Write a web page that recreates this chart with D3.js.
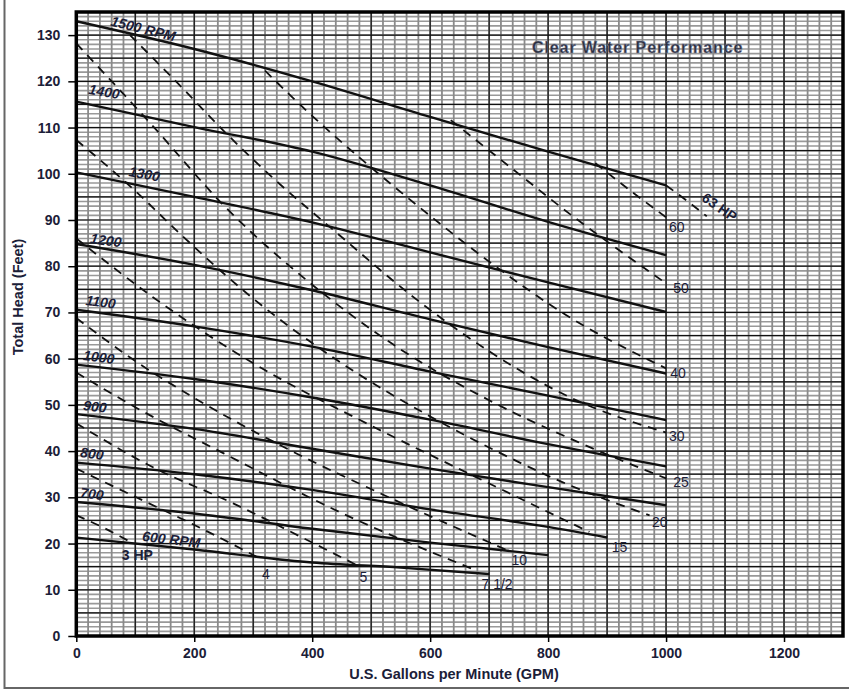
<!DOCTYPE html>
<html>
<head>
<meta charset="utf-8">
<script src="https://cdn.jsdelivr.net/npm/d3@7"></script>
<style>
  body { margin: 0; background: #fff; }
  text { font-family: "Liberation Sans", Arial, sans-serif; }
</style>
</head>
<body>
<script>
// ---- data (GPM, feet) ----
const xTicks = [0, 200, 400, 600, 800, 1000, 1200];
const yTicks = [0, 10, 20, 30, 40, 50, 60, 70, 80, 90, 100, 110, 120, 130];

// solid RPM curves
const rpm1500 = [[0, 133], [200, 127], [400, 120], [600, 112.3], [800, 104.8], [1000, 97.5]];
const rpm1400 = [[0, 115.6], [200, 110.1], [400, 104.8], [600, 97.5], [800, 89.6], [1000, 82.4]];
const rpm1300 = [[0, 100.3], [200, 95], [400, 89.5], [600, 83], [800, 76.5], [1000, 70.1]];
const rpm1200 = [[0, 84.8], [200, 80.3], [400, 74.8], [600, 68.5], [800, 62.5], [1000, 56.8]];
const rpm1100 = [[0, 70.6], [200, 67], [400, 62.6], [600, 57.2], [800, 52], [1000, 46.7]];
const rpm1000 = [[0, 58.7], [200, 55.6], [400, 51.6], [600, 46.8], [800, 41.5], [1000, 36.7]];
const rpm900 = [[0, 48], [200, 44.8], [400, 40.5], [600, 36.2], [800, 32.2], [1000, 28.3]];
const rpm800 = [[0, 37.5], [200, 35], [400, 31.6], [600, 27.4], [800, 23.6], [900, 21.3]];
const rpm700 = [[0, 29], [200, 26.5], [400, 23.2], [600, 20.2], [800, 17.5]];
const rpm600 = [[0, 21.3], [200, 18.7], [400, 15.9], [550, 14.8], [700, 13.4]];

// dashed horsepower curves
const hp3 = [[0, 26.1], [45, 23.5], [91, 20.4]];
const hp4 = [[0, 36.2], [110, 29.5], [210, 23.4], [305, 17.2]];
const hp5 = [[0, 46], [130, 36.5], [266, 28.7], [380, 21.5], [476, 15.3]];
const hp7 = [[0, 57], [100, 49.5], [250, 39.5], [450, 26.6], [672, 14.5]];
const hp10 = [[0, 68.8], [100, 59.5], [200, 51.5], [350, 41], [530, 30], [730, 18.6]];
const hp15 = [[0, 86], [130, 73.3], [300, 59], [500, 45.5], [700, 33], [870, 22.5]];
const hp20 = [[0, 107.3], [100, 96.3], [176, 87], [300, 73], [450, 59], [600, 47.5], [720, 39.5], [824, 33.3], [972, 26.1]];
const hp25 = [[0, 128.2], [125, 111], [255, 92.5], [400, 76], [550, 62], [700, 51], [850, 42], [1000, 34.1]];
const hp30 = [[91, 130], [178, 118.8], [249, 109.4], [330, 99.5], [439, 87.5], [580, 72.5], [695, 62], [836, 51.7], [1000, 44]];
const hp40 = [[320, 122.3], [384, 114.4], [494, 102], [599, 91], [700, 81], [831, 69.4], [1000, 57.9]];
const hp50 = [[635, 111.6], [740, 101], [840, 91], [920, 83.5], [1000, 76.3]];
const hp60 = [[880, 102.3], [940, 96.3], [1000, 90.6]];
const hp63 = [[1000, 97.5], [1035, 94.2], [1069, 90.8]];

const rpmCurves = [rpm1500, rpm1400, rpm1300, rpm1200, rpm1100, rpm1000, rpm900, rpm800, rpm700, rpm600];
const hpCurves = [hp3, hp4, hp5, hp7, hp10, hp15, hp20, hp25, hp30, hp40, hp50, hp60, hp63];

// curve labels: text, GPM, feet (baseline start)
const rpmLabels = [
  ["1500 RPM", 57, 132.1], ["1400", 20, 117.3], ["1300", 88, 99.5], ["1200", 23, 85],
  ["1100", 15, 71.6], ["1000", 11, 59.7], ["900", 11, 48.9], ["800", 6, 38.7],
  ["700", 6, 30], ["600 RPM", 111, 20.6]
];
const rpmAngles = [14, 10, 10, 8, 7, 7, 7, 7, 7, 7];
const hpLabels = [
  ["4", 315, 12.4], ["5", 480, 11.7], ["7 1/2", 687, 10.1], ["10", 738, 15.3],
  ["15", 908, 18.2], ["20", 976, 23.6], ["25", 1012, 32.2], ["30", 1005, 42.1],
  ["40", 1007, 55.8], ["50", 1012, 74.2], ["60", 1005, 87.4]
];

const width = 849, height = 698;
const ink = "#1b2038";

const svg = d3.select("body").append("svg")
  .attr("width", width)
  .attr("height", height);

svg.append("rect").attr("width", width).attr("height", height).attr("fill", "#fff");

const x = d3.scaleLinear().domain([0, 1300]).range([76.3, 843]);
const y = d3.scaleLinear().domain([0, 135]).range([636, 12]);

// outer border (left + bottom visible)
svg.append("path")
  .attr("d", `M4.5,0 V688 H${width}`)
  .attr("fill", "none")
  .attr("stroke", "#666")
  .attr("stroke-width", 2);

// graph-paper grid
const grid = svg.append("g");
grid.selectAll(".hmin").data(d3.range(0, 136, 1)).join("line")
  .attr("x1", x(0)).attr("x2", x(1300))
  .attr("y1", d => y(d)).attr("y2", d => y(d))
  .attr("stroke", "#999").attr("stroke-width", 1.6);
grid.selectAll(".vmin").data(d3.range(0, 1301, 20)).join("line")
  .attr("x1", d => x(d)).attr("x2", d => x(d))
  .attr("y1", y(0)).attr("y2", y(135))
  .attr("stroke", "#8a8a8a").attr("stroke-width", 1.8);
grid.selectAll(".hmaj").data(d3.range(0, 136, 5)).join("line")
  .attr("x1", x(0)).attr("x2", x(1300))
  .attr("y1", d => y(d)).attr("y2", d => y(d))
  .attr("stroke", "#111").attr("stroke-width", 1.2);
grid.selectAll(".vmaj").data(d3.range(0, 1301, 100)).join("line")
  .attr("x1", d => x(d)).attr("x2", d => x(d))
  .attr("y1", y(0)).attr("y2", y(135))
  .attr("stroke", "#111").attr("stroke-width", 1.2);

const line = d3.line()
  .x(d => x(d[0]))
  .y(d => y(d[1]))
  .curve(d3.curveMonotoneX);

// horsepower curves (dashed)
svg.append("g").selectAll("path").data(hpCurves).join("path")
  .attr("d", line)
  .attr("fill", "none")
  .attr("stroke", "#111")
  .attr("stroke-width", 1.8)
  .attr("stroke-dasharray", "9,7");

// RPM curves (solid)
svg.append("g").selectAll("path").data(rpmCurves).join("path")
  .attr("d", line)
  .attr("fill", "none")
  .attr("stroke", "#111")
  .attr("stroke-width", 2.4);

// plot frame
svg.append("rect")
  .attr("x", x(0)).attr("y", y(135))
  .attr("width", x(1300) - x(0)).attr("height", y(0) - y(135))
  .attr("fill", "none")
  .attr("stroke", "#000")
  .attr("stroke-width", 3.5);

// axes
svg.append("g")
  .attr("transform", `translate(${x(0)},0)`)
  .call(d3.axisLeft(y).tickValues(yTicks).tickSize(8).tickPadding(8))
  .call(g => g.select(".domain").remove())
  .call(g => g.selectAll("line").attr("stroke", "#000").attr("stroke-width", 1.5))
  .call(g => g.selectAll("text")
    .attr("fill", ink)
    .attr("font-size", 14)
    .attr("font-weight", "bold")
    .attr("font-family", "Liberation Sans, Arial, sans-serif"));

svg.append("g")
  .attr("transform", `translate(0,${y(0)})`)
  .call(d3.axisBottom(x).tickValues(xTicks).tickFormat(d3.format("d")).tickSize(6).tickPadding(6))
  .call(g => g.select(".domain").remove())
  .call(g => g.selectAll("line").attr("stroke", "#000").attr("stroke-width", 1.5))
  .call(g => g.selectAll("text")
    .attr("fill", ink)
    .attr("font-size", 14)
    .attr("font-weight", "bold")
    .attr("font-family", "Liberation Sans, Arial, sans-serif"));

// axis titles
svg.append("text")
  .attr("x", 454).attr("y", 679)
  .attr("text-anchor", "middle")
  .attr("font-size", 14.5)
  .attr("font-weight", "bold")
  .attr("fill", ink)
  .text("U.S. Gallons per Minute (GPM)");

svg.append("text")
  .attr("transform", "translate(23,297) rotate(-90)")
  .attr("text-anchor", "middle")
  .attr("font-size", 14.5)
  .attr("font-weight", "bold")
  .attr("fill", ink)
  .text("Total Head (Feet)");

// chart title inside plot
svg.append("text")
  .attr("x", 532).attr("y", 53)
  .attr("font-size", 16)
  .attr("font-weight", "bold")
  .attr("letter-spacing", 0.9)
  .attr("fill", "#2a2d3d")
  .attr("stroke", "#7c8298")
  .attr("stroke-width", 0.5)
  .text("Clear Water Performance");

// RPM labels
svg.append("g").selectAll("text").data(rpmLabels).join("text")
  .attr("transform", (d, i) => `translate(${x(d[1])},${y(d[2])}) rotate(${rpmAngles[i]})`)
  .attr("font-size", 14)
  .attr("font-weight", "bold")
  .attr("font-style", "italic")
  .attr("fill", ink)
  .text(d => d[0]);

// HP labels
svg.append("g").selectAll("text").data(hpLabels).join("text")
  .attr("x", d => x(d[1]))
  .attr("y", d => y(d[2]))
  .attr("font-size", 14)
  .attr("fill", ink)
  .text(d => d[0]);

svg.append("text")
  .attr("x", x(77)).attr("y", y(16.4))
  .attr("font-size", 14)
  .attr("font-weight", "bold")
  .attr("fill", ink)
  .text("3 HP");

svg.append("text")
  .attr("transform", `translate(${x(1059)},${y(94.3)}) rotate(35)`)
  .attr("font-size", 14)
  .attr("font-weight", "bold")
  .attr("fill", ink)
  .text("63 HP");
</script>
</body>
</html>
